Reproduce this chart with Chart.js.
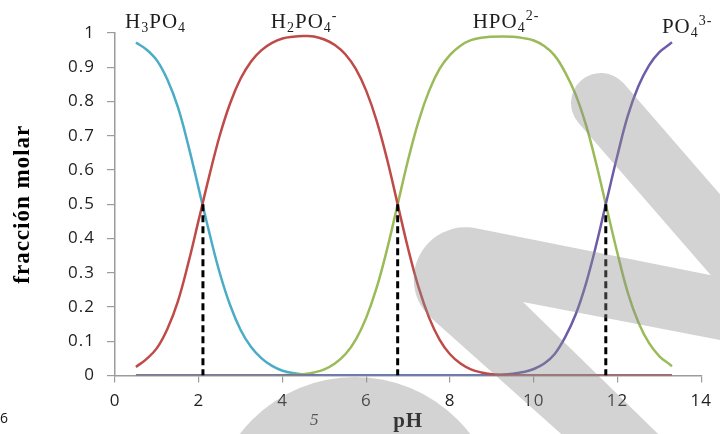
<!DOCTYPE html>
<html><head><meta charset="utf-8">
<script src="https://cdn.jsdelivr.net/npm/chart.js@4.4.1/dist/chart.umd.min.js"></script>
<style>html,body{margin:0;padding:0;background:#fff;}#wrap{width:720px;height:434px;position:relative;}</style>
</head><body><div id="wrap"><canvas id="c" width="720" height="434"></canvas></div>
<script>
// ---- data ----
const pH = [0.5,0.75,1,1.25,1.5,1.75,2,2.25,2.5,2.75,3,3.25,3.5,3.75,4,4.25,4.5,4.75,5,5.25,5.5,5.75,6,6.25,6.5,6.75,7,7.25,7.5,7.75,8,8.25,8.5,8.75,9,9.25,9.5,9.75,10,10.25,10.5,10.75,11,11.25,11.5,11.75,12,12.25,12.5,12.75,13,13.25,13.3];
const fracH3PO4 = [0.972,0.952,0.920,0.864,0.784,0.672,0.545,0.418,0.300,0.205,0.133,0.083,0.050,0.028,0.014,0.007,0.003,0.001,
  0,0,0,0,0,0,0,0,0,0,0,0,0,0,0,0,0,0,0,0,0,0,0,0,0,0,0,0,0,0,0,0,0,0,0];
const fracH2PO4 = [0.025,0.048,0.080,0.136,0.216,0.328,0.455,0.582,0.700,0.795,0.867,0.917,0.950,0.971,0.984,0.989,0.991,0.990,0.981,
  0.965,0.938,0.895,0.831,0.743,0.630,0.500,0.370,0.257,0.169,0.105,0.062,0.035,0.018,0.009,0.004,0.002,0.001,
  0,0,0,0,0,0,0,0,0,0,0,0,0,0,0,0];
const fracHPO4 = [0,0,0,0,0,0,0,0,0,0,0,0,0,0,
  0.001,0.002,0.004,0.009,0.018,0.035,0.062,0.105,0.169,0.257,0.370,0.500,0.630,0.743,0.831,0.895,0.936,0.963,0.979,0.986,
  0.989,0.990,0.989,0.985,0.978,0.962,0.934,0.885,0.820,0.730,0.614,0.484,0.356,0.240,0.155,0.095,0.056,0.032,0.027];
const fracPO4 = [0,0,0,0,0,0,0,0,0,0,0,0,0,0,0,0,0,0,0,0,0,0,0,0,0,0,0,0,0,0,0,0,0,0,
  0.001,0.002,0.005,0.010,0.019,0.035,0.063,0.112,0.178,0.270,0.386,0.516,0.644,0.760,0.845,0.905,0.944,0.968,0.973];
const pKaValues = [2.1, 6.75, 11.72];
const halfFraction = 0.5;
const xTickValues = [0,2,4,6,8,10,12,14];
const xTickLabels = ['0','2','4','6','8','10','12','14'];
const yTickValues = [0,0.1,0.2,0.3,0.4,0.5,0.6,0.7,0.8,0.9,1];
const yTickLabels = ['0','0.1','0.2','0.3','0.4','0.5','0.6','0.7','0.8','0.9','1'];
const speciesNames = ['H3PO4','H2PO4-','HPO4 2-','PO4 3-'];
const xTitle = 'pH';
const yTitle = 'fracción molar';

// ---- presentation ----
const speciesStyle = [
  {color:'#4BACC6', order:4},
  {color:'#BE4B48', order:1},
  {color:'#9BBB59', order:3},
  {color:'#6E5CA8', order:2}
];
// rich-text pieces for each species label: [text, kind]
const speciesParts = [
  [['H',''],['3','sub'],['PO',''],['4','sub']],
  [['H',''],['2','sub'],['PO',''],['4','sub'],['-','sup']],
  [['HPO',''],['4','sub'],['2-','sup']],
  [['PO',''],['4','sub'],['3-','sup']]
];
const speciesAnchor = [ {ph:0.24, y:28}, {ph:3.72, y:28}, {ph:8.54, y:28}, {ph:13.06, y:33} ];

const seriesValues = [fracH3PO4, fracH2PO4, fracHPO4, fracPO4];
const datasets = seriesValues.map((vals, s) => ({
  label: speciesNames[s],
  data: pH.map((x, i) => ({x: x, y: vals[i]})),
  borderColor: speciesStyle[s].color,
  borderWidth: 2.5,
  pointRadius: 0,
  fill: false,
  tension: 0.4,
  order: speciesStyle[s].order
}));
pKaValues.forEach(p => {
  datasets.push({
    label: 'pKa ' + p,
    data: [{x: p, y: halfFraction}, {x: p, y: 0}],
    borderColor: '#000',
    borderWidth: 3,
    borderDash: [7, 4],
    pointRadius: 0,
    tension: 0,
    fill: false,
    order: 0
  });
});

const decor = {
  id: 'decor',
  beforeLayout(chart){ chart.ctx.letterSpacing = '1px'; },
  beforeDraw(chart){ chart.ctx.letterSpacing = '1px'; },
  afterDatasetsDraw(chart){
    const ctx = chart.ctx, xs = chart.scales.x;
    ctx.save();
    ctx.letterSpacing = '1px';
    ctx.fillStyle = '#1e1e1e';
    ctx.textBaseline = 'alphabetic';
    ctx.textAlign = 'left';
    speciesParts.forEach((parts, i) => {
      let x = xs.getPixelForValue(speciesAnchor[i].ph);
      const y = speciesAnchor[i].y;
      parts.forEach(([t, k]) => {
        let dy = 0;
        if (k === 'sub') { ctx.font = '14px "Liberation Serif"'; dy = 4; }
        else if (k === 'sup') { ctx.font = '14px "Liberation Serif"'; dy = -8; }
        else { ctx.font = '21px "Liberation Serif"'; }
        ctx.fillText(t, x, y + dy);
        x += ctx.measureText(t).width;
      });
    });
    ctx.restore();
  },
  afterDraw(chart){
    const ctx = chart.ctx;
    // page artefacts of the scanned page
    ctx.save();
    ctx.letterSpacing = '0px';
    ctx.fillStyle = '#111';
    ctx.font = '14px "Open Sans"';
    ctx.textAlign = 'left';
    ctx.textBaseline = 'alphabetic';
    ctx.fillText('6', 0, 423);
    ctx.fillStyle = '#333';
    ctx.font = 'italic 17px "Liberation Serif"';
    ctx.fillText('5', 310, 425);
    ctx.restore();
    // translucent grey watermark strokes
    const off = document.createElement('canvas');
    off.width = chart.width; off.height = chart.height;
    const o = off.getContext('2d');
    o.fillStyle = o.strokeStyle = '#8c8c8c';
    o.lineWidth = 60; o.lineCap = 'round';
    o.beginPath(); o.moveTo(601, 103); o.lineTo(820, 355); o.stroke();
    o.beginPath();
    o.moveTo(760, 285);
    o.arcTo(288.4, 190.7, 600, 468.6, 52);
    o.lineTo(600, 468.6);
    o.lineTo(695, 470);
    o.lineTo(523, 302);
    o.lineTo(760, 347.7);
    o.closePath(); o.fill();
    o.beginPath(); o.arc(355, 522, 145, 0, Math.PI * 2); o.fill();
    ctx.save();
    ctx.globalAlpha = 0.38;
    ctx.drawImage(off, 0, 0);
    ctx.restore();
  }
};

const axisGrey = '#9c9c9c';
new Chart(document.getElementById('c'), {
  type: 'line',
  data: { datasets },
  plugins: [decor],
  options: {
    responsive: false,
    animation: false,
    layout: { padding: { left: 0, right: 10, top: 33, bottom: 0 } },
    plugins: { legend: { display: false }, tooltip: { enabled: false } },
    scales: {
      x: {
        type: 'linear', min: 0, max: 14,
        afterBuildTicks: s => { s.ticks = xTickValues.map(v => ({value: v})); },
        afterFit: s => { s.height = 58.5; },
        ticks: { callback: (v, i) => xTickLabels[i], color: '#1e1e1e', font: { family: 'Open Sans', size: 17 }, padding: 8, maxRotation: 0 },
        grid: { display: true, drawOnChartArea: false, drawTicks: true, tickLength: 7, color: axisGrey, lineWidth: 1.2 },
        border: { display: true, color: axisGrey, width: 1.5 },
        title: { display: true, text: xTitle, color: '#000', font: { family: 'Liberation Serif', size: 21, weight: 'bold' }, padding: { top: 0, bottom: 0 } }
      },
      y: {
        type: 'linear', min: 0, max: 1,
        afterBuildTicks: s => { s.ticks = yTickValues.map(v => ({value: v})); },
        afterFit: s => { s.width = 115; },
        ticks: { callback: (v, i) => yTickLabels[i], color: '#1e1e1e', font: { family: 'Open Sans', size: 17 }, padding: 12 },
        grid: { display: true, drawOnChartArea: false, drawTicks: true, tickLength: 8, color: axisGrey, lineWidth: 1.2 },
        border: { display: true, color: axisGrey, width: 1.5 },
        title: { display: true, text: yTitle, color: '#000', font: { family: 'Liberation Serif', size: 23, weight: 'bold' }, padding: { top: 9, bottom: 0 } }
      }
    }
  }
});
</script>
</body></html>
